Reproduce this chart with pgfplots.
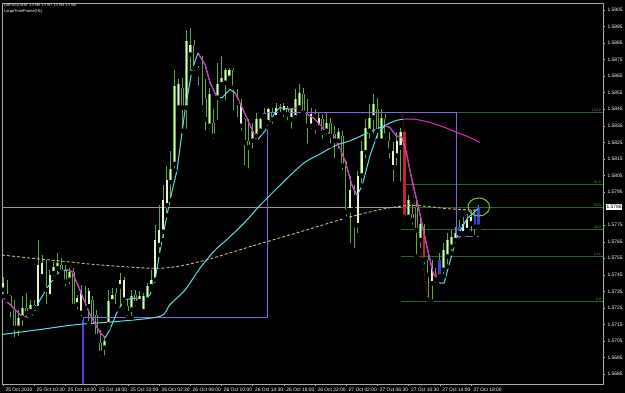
\documentclass[border=0pt]{standalone}
\usepackage{pgfplots}
\pgfplotsset{compat=1.18}
\usepackage{pgfplotstable}
\usepackage{fontspec}
\setmainfont{Liberation Sans}
\definecolor{wick}{RGB}{100,165,70}
\definecolor{bullbody}{RGB}{228,246,200}
\definecolor{fastc}{RGB}{90,225,230}
\definecolor{fastm}{RGB}{230,40,190}
\definecolor{purp}{RGB}{125,105,230}
\definecolor{purpdark}{RGB}{80,70,200}
\definecolor{fibg}{RGB}{45,100,45}
\definecolor{fibtxt}{RGB}{80,150,60}
\definecolor{tanma}{RGB}{205,190,140}
\definecolor{candred}{RGB}{200,35,35}
\definecolor{candblue}{RGB}{50,70,210}
\definecolor{circg}{RGB}{110,200,80}
\definecolor{axgray}{RGB}{170,170,170}
\definecolor{bidgray}{RGB}{150,150,150}

\pgfplotstableread{
i o h l c
0 1.5736 1.5744 1.5732 1.5740
1 1.5740 1.5742 1.5730 1.5732
2 1.5732 1.5733 1.5718 1.5724
3 1.5724 1.5730 1.5706 1.5713
4 1.5713 1.5724 1.5707 1.5719
5 1.5719 1.5732 1.5713 1.5725
6 1.5725 1.5734 1.5718 1.5722
7 1.5723 1.5730 1.5720 1.5727
8 1.5727 1.5730 1.5722 1.5725
9 1.5725 1.5766 1.5724 1.5751
10 1.5744 1.5757 1.5742 1.5752
11 1.5751 1.5754 1.5726 1.5736
12 1.5732 1.5748 1.5729 1.5745
13 1.5746 1.5753 1.5743 1.5750
14 1.5749 1.5758 1.5744 1.5752
15 1.5751 1.5755 1.5744 1.5747
16 1.5748 1.5751 1.5737 1.5741
17 1.5742 1.5749 1.5738 1.5747
18 1.5747 1.5749 1.5724 1.5726
19 1.5727 1.5733 1.5723 1.5731
20 1.5722 1.5739 1.5719 1.5735
21 1.5735 1.5738 1.5723 1.5725
22 1.5726 1.5737 1.5716 1.5735
23 1.5730 1.5732 1.5712 1.5714
24 1.5721 1.5724 1.5706 1.5708
25 1.5704 1.5712 1.5695 1.5698
26 1.5701 1.5707 1.5695 1.5705
27 1.5715 1.5736 1.5713 1.5729
28 1.5729 1.5737 1.5726 1.5733
29 1.5734 1.5737 1.5724 1.5726
30 1.5738 1.5746 1.5724 1.5742
31 1.5730 1.5744 1.5728 1.5742
32 1.5726 1.5730 1.5719 1.5722
33 1.5724 1.5736 1.5719 1.5732
34 1.5733 1.5736 1.5725 1.5728
35 1.5729 1.5735 1.5727 1.5732
36 1.5723 1.5734 1.5721 1.5732
37 1.5730 1.5740 1.5728 1.5738
38 1.5738 1.5748 1.5736 1.5742
39 1.5742 1.5775 1.5739 1.5766
40 1.5763 1.5787 1.5757 1.5772
41 1.5771 1.5799 1.5766 1.5790
42 1.5787 1.5811 1.5781 1.5802
43 1.5801 1.5820 1.5790 1.5809
44 1.5812 1.5869 1.5808 1.5859
45 1.5846 1.5863 1.5843 1.5860
46 1.5858 1.5864 1.5832 1.5846
47 1.5846 1.5893 1.5832 1.5886
48 1.5878 1.5894 1.5867 1.5884
49 1.5884 1.5887 1.5867 1.5870
50 1.5870 1.5871 1.5858 1.5866
51 1.5860 1.5877 1.5843 1.5846
52 1.5851 1.5863 1.5831 1.5839
53 1.5835 1.5858 1.5832 1.5854
54 1.5837 1.5845 1.5826 1.5829
55 1.5852 1.5873 1.5837 1.5860
56 1.5860 1.5877 1.5858 1.5864
57 1.5861 1.5870 1.5849 1.5869
58 1.5864 1.5870 1.5863 1.5869
59 1.5869 1.5870 1.5843 1.5858
60 1.5852 1.5857 1.5839 1.5849
61 1.5835 1.5851 1.5831 1.5848
62 1.5839 1.5840 1.5810 1.5825
63 1.5826 1.5839 1.5808 1.5822
64 1.5826 1.5837 1.5820 1.5832
65 1.5829 1.5843 1.5826 1.5839
66 1.5832 1.5840 1.5831 1.5839
67 1.5841 1.5846 1.5839 1.5843
68 1.5837 1.5846 1.5834 1.5845
69 1.5843 1.5846 1.5835 1.5839
70 1.5840 1.5849 1.5839 1.5846
71 1.5842 1.5848 1.5840 1.5843
72 1.5843 1.5849 1.5839 1.5847
73 1.5845 1.5847 1.5837 1.5842
74 1.5839 1.5846 1.5832 1.5845
75 1.5840 1.5857 1.5839 1.5851
76 1.5846 1.5860 1.5845 1.5855
77 1.5854 1.5858 1.5840 1.5843
78 1.5843 1.5851 1.5823 1.5835
79 1.5835 1.5846 1.5832 1.5842
80 1.5842 1.5845 1.5829 1.5834
81 1.5834 1.5843 1.5831 1.5840
82 1.5839 1.5842 1.5826 1.5831
83 1.5832 1.5843 1.5829 1.5837
84 1.5837 1.5840 1.5823 1.5829
85 1.5830 1.5835 1.5814 1.5826
86 1.5826 1.5834 1.5820 1.5831
87 1.5829 1.5832 1.5807 1.5811
88 1.5811 1.5814 1.5779 1.5783
89 1.5784 1.5805 1.5763 1.5796
90 1.5793 1.5799 1.5760 1.5775
91 1.5775 1.5808 1.5769 1.5805
92 1.5805 1.5826 1.5799 1.5820
93 1.5819 1.5839 1.5814 1.5834
94 1.5832 1.5848 1.5826 1.5840
95 1.5840 1.5854 1.5829 1.5848
96 1.5845 1.5852 1.5826 1.5832
97 1.5826 1.5845 1.5825 1.5840
98 1.5839 1.5842 1.5826 1.5829
99 1.5826 1.5831 1.5814 1.5820
100 1.5810 1.5825 1.5800 1.5820
101 1.5817 1.5831 1.5810 1.5826
102 1.5822 1.5834 1.5800 1.5831
103 1.5831 1.5832 1.5777 1.5780
104 1.5780 1.5793 1.5778 1.5790
105 1.5782 1.5788 1.5774 1.5778
106 1.5786 1.5790 1.5756 1.5772
107 1.5766 1.5780 1.5760 1.5776
108 1.5770 1.5776 1.5750 1.5754
109 1.5754 1.5758 1.5730 1.5745
110 1.5740 1.5754 1.5729 1.5750
111 1.5746 1.5749 1.5739 1.5742
112 1.5744 1.5758 1.5742 1.5754
113 1.5748 1.5764 1.5744 1.5760
114 1.5756 1.5770 1.5750 1.5766
115 1.5762 1.5772 1.5758 1.5768
116 1.5766 1.5774 1.5763 1.5770
117 1.5770 1.5778 1.5766 1.5774
118 1.5770 1.5780 1.5768 1.5776
119 1.5772 1.5782 1.5770 1.5778
120 1.5776 1.5784 1.5770 1.5780
121 1.5774 1.5784 1.5768 1.5782
122 1.5774 1.5787 1.5773 1.5786
}\candles

\pgfplotstableread{
i lo hi
103 1.5780 1.5831
108 1.5754 1.5770
111 1.5742 1.5746
}\redbodies

\pgfplotstableread{
i lo hi
112 1.5744 1.5754
117 1.5770 1.5774
121 1.5774 1.5782
122 1.5774 1.5786
}\bluebodies

\begin{document}
\begin{tikzpicture}
\useasboundingbox (-2pt,-9pt) rectangle (623pt,384pt);
\fill[black] (-2pt,-9pt) rectangle (623pt,384pt);
\begin{axis}[
  at={(0pt,0pt)}, anchor=south west,
  scale only axis, width=601pt, height=381pt,
  xmin=-0.26, xmax=153.85, ymin=1.56791, ymax=1.59092,
  axis line style={axgray, line width=0.6pt},
  tick align=outside, major tick length=2pt,
  tick style={axgray, line width=0.5pt},
  xtick pos=left, xticklabel pos=left,
  ytick pos=right, yticklabel pos=right,
  xtick={0,8,...,120},
  xticklabels={25 Oct 2010, 25 Oct 10:30, 25 Oct 14:00, 25 Oct 18:00, 25 Oct 22:00, 26 Oct 02:30, 26 Oct 06:00, 26 Oct 10:00, 26 Oct 14:30, 26 Oct 18:00, 26 Oct 22:00, 27 Oct 02:00, 27 Oct 06:30, 27 Oct 10:30, 27 Oct 14:00, 27 Oct 18:00},
  ytick={1.5685,1.5695,1.5705,1.5715,1.5725,1.5735,1.5745,1.5755,1.5765,1.5775,1.5795,1.5805,1.5815,1.5825,1.5835,1.5845,1.5855,1.5865,1.5875,1.5885,1.5895,1.5905},
  yticklabels={1.5685,1.5695,1.5705,1.5715,1.5725,1.5735,1.5745,1.5755,1.5765,1.5775,1.5795,1.5805,1.5815,1.5825,1.5835,1.5845,1.5855,1.5865,1.5875,1.5885,1.5895,1.5905},
  ticklabel style={text=white, font=\fontsize{4.9}{5}\selectfont},
  xticklabel style={anchor=north west, xshift=-1pt, yshift=1pt},
  yticklabel style={anchor=west, xshift=-1pt},
]
% background objects
\addplot[bidgray, line width=0.5pt] coordinates {(-0.26,1.5786) (153.85,1.5786)};
\addplot[fibg, line width=0.8pt] coordinates {(102,1.5843) (153.85,1.5843)};
\addplot[fibg, line width=0.8pt] coordinates {(102,1.57995) (153.85,1.57995)};
\addplot[fibg, line width=0.8pt] coordinates {(102,1.5786) (153.85,1.5786)};
\addplot[fibg, line width=0.8pt] coordinates {(102,1.57725) (153.85,1.57725)};
\addplot[fibg, line width=0.8pt] coordinates {(102,1.57559) (153.85,1.57559)};
\addplot[fibg, line width=0.8pt] coordinates {(102,1.5729) (153.85,1.5729)};

% candles: wicks
\addplot[only marks, mark=none,
  error bars/.cd, y dir=plus, y explicit, error mark=none,
  error bar style={line width=0.8pt, wick}]
  table[x=i, y=l, y error plus expr={\thisrow{h}-\thisrow{l}}] {\candles};
% bull bodies
\addplot[only marks, mark=none, restrict expr to domain={\thisrow{c}-\thisrow{o}}{0:1},
  error bars/.cd, y dir=plus, y explicit, error mark=none,
  error bar style={line width=2.6pt, wick}]
  table[x=i, y=o, y error plus expr={\thisrow{c}-\thisrow{o}}] {\candles};
\addplot[only marks, mark=none, restrict expr to domain={\thisrow{c}-\thisrow{o}}{0:1},
  error bars/.cd, y dir=plus, y explicit, error mark=none,
  error bar style={line width=1.5pt, bullbody}]
  table[x=i, y=o, y error plus expr={\thisrow{c}-\thisrow{o}}] {\candles};
% bear bodies
\addplot[only marks, mark=none, restrict expr to domain={\thisrow{c}-\thisrow{o}}{-1:-0.00001},
  error bars/.cd, y dir=plus, y explicit, error mark=none,
  error bar style={line width=2.6pt, wick}]
  table[x=i, y=c, y error plus expr={\thisrow{o}-\thisrow{c}}] {\candles};
\addplot[only marks, mark=none, restrict expr to domain={\thisrow{c}-\thisrow{o}}{-1:-0.00001},
  error bars/.cd, y dir=plus, y explicit, error mark=none,
  error bar style={line width=1.1pt, black}]
  table[x=i, y=c, y error plus expr={\thisrow{o}-\thisrow{c}}] {\candles};
% coloured bodies
\addplot[only marks, mark=none,
  error bars/.cd, y dir=plus, y explicit, error mark=none,
  error bar style={line width=2.6pt, candred}]
  table[x=i, y=lo, y error plus expr={\thisrow{hi}-\thisrow{lo}}] {\redbodies};
\addplot[only marks, mark=none,
  error bars/.cd, y dir=plus, y explicit, error mark=none,
  error bar style={line width=2.6pt, candblue}]
  table[x=i, y=lo, y error plus expr={\thisrow{hi}-\thisrow{lo}}] {\bluebodies};

% 200 MA dashed
\addplot[tanma, line width=0.9pt, dash pattern=on 3pt off 2pt, smooth] coordinates {
(-0.26,1.5757) (7.7,1.5755) (16.4,1.5753) (24.9,1.5751) (40.3,1.5749) (50.5,1.5753) (63.3,1.5762) (76.2,1.5771) (89.0,1.5780) (98.0,1.5785) (105.1,1.5787) (113.9,1.5785) (121.8,1.5784)};

% LargeTimeFrame box
\addplot[purp, line width=1pt] coordinates {
(20.5,1.5719) (67.9,1.5719) (67.9,1.5843) (116.4,1.5843) (116.4,1.5768) (122,1.5768)};
\addplot[purpdark, line width=1.2pt] coordinates {(20.5,1.5679) (20.5,1.5719)};

% slow MA
\addplot[fastc, line width=1pt, smooth] coordinates {
(-0.26,1.5709) (9.5,1.5712) (19.0,1.5715) (30.0,1.5717) (40.3,1.5720) (42.8,1.5727) (46.7,1.5736) (50.5,1.5749) (54.4,1.5760) (58.2,1.5768) (62.1,1.5777) (65.9,1.5787) (69.7,1.5796) (73.6,1.5805) (77.4,1.5813) (81.3,1.5818) (85.1,1.5823) (89.0,1.5826) (92.8,1.5830) (96.7,1.5834) (100.5,1.5838) (102.6,1.5839)};
\addplot[fastm, line width=1pt, smooth] coordinates {
(102.6,1.5839) (105.6,1.5839) (109.5,1.5837) (113.3,1.5834) (116.4,1.5831) (119.7,1.5828) (122.3,1.5825)};

% fast MA (cyan rising, magenta falling)
\addplot[fastc, line width=1pt, line join=round] coordinates {
(-0.26,1.5732) (1.8,1.5727) (4.4,1.5721) (6.2,1.5719) (7.7,1.5721) (9.5,1.5730) (12.1,1.5740) (14.6,1.5747) (16.4,1.5748) (17.7,1.5747) (19.7,1.5736) (22.3,1.5721) (24.9,1.5710) (26.2,1.5707) (27.4,1.5712) (29.5,1.5724) (31.3,1.5730) (33.9,1.5731) (35.9,1.5729) (37.7,1.5733) (39.0,1.5742) (40.3,1.5760) (42.8,1.5790) (44.6,1.5808) (46.7,1.5845) (48.5,1.5869) (50.0,1.5879) (51.8,1.5872) (53.1,1.5861) (54.9,1.5852) (56.2,1.5852) (58.2,1.5857) (59.5,1.5855) (62.1,1.5842) (65.1,1.5826) (67.2,1.5832) (69.7,1.5843) (71.0,1.5846) (73.6,1.5845) (75.6,1.5846) (77.4,1.5843) (80.0,1.5839) (82.6,1.5832) (85.1,1.5828) (87.7,1.5814) (89.5,1.5799) (90.8,1.5793) (92.1,1.5799) (94.1,1.5817) (96.2,1.5831) (98.0,1.5835) (99.2,1.5834) (100.8,1.5829) (102.3,1.5828) (103.3,1.5820) (104.9,1.5802) (106.9,1.5782) (108.7,1.5762) (110.3,1.5746) (112.1,1.5740) (113.1,1.5740) (114.6,1.5753) (116.4,1.5768) (119.0,1.5779) (121.8,1.5785)};
\addplot[fastm, line width=1pt, line join=round] coordinates {(-0.26,1.5732) (1.8,1.5727) (4.4,1.5721) (6.2,1.5719)};
\addplot[fastm, line width=1pt, line join=round] coordinates {(16.4,1.5748) (17.7,1.5747) (19.7,1.5736) (22.3,1.5721) (24.9,1.5710) (26.2,1.5707)};
\addplot[fastm, line width=1pt, line join=round] coordinates {(33.9,1.5731) (35.9,1.5729)};
\addplot[fastm, line width=1pt, line join=round] coordinates {(50.0,1.5879) (51.8,1.5872) (53.1,1.5861) (54.9,1.5852)};
\addplot[fastm, line width=1pt, line join=round] coordinates {(59.5,1.5855) (62.1,1.5842) (65.1,1.5826)};
\addplot[fastm, line width=1pt, line join=round] coordinates {(73.6,1.5845) (75.6,1.5846) (77.4,1.5843) (80.0,1.5839) (82.6,1.5832) (85.1,1.5828) (87.7,1.5814) (89.5,1.5799) (90.8,1.5793)};
\addplot[fastm, line width=1pt, line join=round] coordinates {(98.0,1.5835) (99.2,1.5834) (100.8,1.5829) (102.3,1.5828) (103.3,1.5820) (104.9,1.5802) (106.9,1.5782) (108.7,1.5762) (110.3,1.5746) (112.1,1.5740)};

% fibo trend line
\addplot[candred, densely dotted, line width=0.7pt] coordinates {(102.3,1.5843) (109,1.5729)};

% circle marker
\addplot[only marks, mark=o, mark size=9pt, mark options={circg, line width=1pt, xscale=1.2}] coordinates {(122,1.5786)};

% fibo labels
\node[anchor=south east, text=fibtxt, font=\fontsize{3.6}{4}\selectfont, inner sep=0.6pt] at (axis cs:153.5,1.5843) {100.0};
\node[anchor=south east, text=fibtxt, font=\fontsize{3.6}{4}\selectfont, inner sep=0.6pt] at (axis cs:153.5,1.57995) {61.8};
\node[anchor=south east, text=fibtxt, font=\fontsize{3.6}{4}\selectfont, inner sep=0.6pt] at (axis cs:153.5,1.5786) {50.0};
\node[anchor=south east, text=fibtxt, font=\fontsize{3.6}{4}\selectfont, inner sep=0.6pt] at (axis cs:153.5,1.57725) {38.2};
\node[anchor=south east, text=fibtxt, font=\fontsize{3.6}{4}\selectfont, inner sep=0.6pt] at (axis cs:153.5,1.57559) {23.6};
\node[anchor=south east, text=fibtxt, font=\fontsize{3.6}{4}\selectfont, inner sep=0.6pt] at (axis cs:153.5,1.5729) {0.0};

% header
\node[anchor=north west, text=white, font=\fontsize{3.6}{4}\selectfont, inner sep=0pt, xshift=2pt, yshift=-1pt] at (rel axis cs:0,1) {GBPUSD,M30 \ 1.5786 1.5787 1.5784 1.5786};
\node[anchor=north west, text=white, font=\fontsize{4}{4.5}\selectfont, inner sep=0pt, xshift=2pt, yshift=-6.5pt] at (rel axis cs:0,1) {LargeTimeFrame(H1)};

\coordinate (pricept) at (axis cs:153.85,1.5786);
\end{axis}
\node[fill=white, text=black, anchor=west, inner sep=0.8pt, font=\fontsize{4.9}{5}\selectfont, xshift=2.5pt] at (pricept) {1.5786};
\end{tikzpicture}
\end{document}
